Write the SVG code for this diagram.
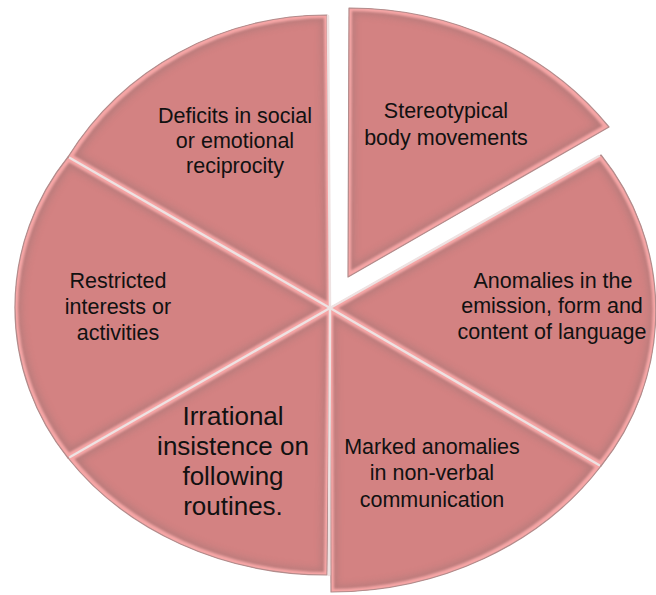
<svg xmlns="http://www.w3.org/2000/svg" width="656" height="595" viewBox="0 0 656 595">
<style>
.slice{fill:#d38282;filter:url(#bevel)}
.edge{fill:none;stroke:#b38c8c;stroke-width:1.2;stroke-linejoin:round}
.sep{stroke:#eee2e2;stroke-width:2.5;stroke-linecap:round}
.lbl{font-family:"Liberation Sans",Arial,sans-serif;font-size:21.5px;fill:#111;text-anchor:middle}
.big{font-size:26px}
</style>
<defs>
<filter id="bevel" x="-5%" y="-5%" width="110%" height="110%" color-interpolation-filters="sRGB">
<feMorphology in="SourceAlpha" operator="erode" radius="3" result="er"/>
<feGaussianBlur in="er" stdDeviation="1.2" result="bl"/>
<feComposite in="SourceAlpha" in2="bl" operator="out" result="rim"/>
<feFlood flood-color="#f6a6a6" result="fl"/>
<feComposite in="fl" in2="rim" operator="in" result="rimc"/>
<feMorphology in="SourceAlpha" operator="erode" radius="6" result="er2"/>
<feGaussianBlur in="er2" stdDeviation="3.5" result="bl2"/>
<feComposite in="SourceAlpha" in2="bl2" operator="out" result="rim2"/>
<feFlood flood-color="#9a7474" flood-opacity="0.45" result="fl2"/>
<feComposite in="fl2" in2="rim2" operator="in" result="shade"/>
<feMerge><feMergeNode in="SourceGraphic"/><feMergeNode in="shade"/><feMergeNode in="rimc"/></feMerge>
</filter>
</defs>

<g id="deficits">
<path class="slice" d="M330 308 L327 15 A302 293 0 0 0 68 157 Z"/>
<path class="edge" d="M330 308 L327 15 A302 293 0 0 0 68 157 Z"/>
<text class="lbl" x="235" y="123">Deficits in social</text>
<text class="lbl" x="235" y="148">or emotional</text>
<text class="lbl" x="235" y="173">reciprocity</text>
</g>

<g id="restricted">
<path class="slice" d="M330 308 L68 157 A240 240 0 0 0 68 458 Z"/>
<path class="edge" d="M330 308 L68 157 A240 240 0 0 0 68 458 Z"/>
<text class="lbl" x="118" y="288">Restricted</text>
<text class="lbl" x="118" y="314">interests or</text>
<text class="lbl" x="118" y="340">activities</text>
</g>

<g id="irrational">
<path class="slice" d="M330 308 L68 458 A313 267 0 0 0 327 575 Z"/>
<path class="edge" d="M330 308 L68 458 A313 267 0 0 0 327 575 Z"/>
<text class="lbl big" x="233" y="425">Irrational</text>
<text class="lbl big" x="233" y="455">insistence on</text>
<text class="lbl big" x="233" y="485">following</text>
<text class="lbl big" x="233" y="515">routines.</text>
</g>

<g id="marked">
<path class="slice" d="M330 308 L331 592 A325 284 0 0 0 601 466 Z"/>
<path class="edge" d="M330 308 L331 592 A325 284 0 0 0 601 466 Z"/>
<text class="lbl" x="432" y="454">Marked anomalies</text>
<text class="lbl" x="432" y="480">in non-verbal</text>
<text class="lbl" x="432" y="507">communication</text>
</g>

<g id="anomalies">
<path class="slice" d="M330 308 L601 466 A248 248 0 0 0 601 155 Z"/>
<path class="edge" d="M330 308 L601 466 A248 248 0 0 0 601 155 Z"/>
<text class="lbl" x="553" y="288">Anomalies in the</text>
<text class="lbl" x="552" y="313">emission, form and</text>
<text class="lbl" x="552" y="339">content of language</text>
</g>

<g id="stereotypical">
<path class="slice" d="M348 277 L349 8 A322 290 0 0 1 609 127 Z"/>
<path class="edge" d="M348 277 L349 8 A322 290 0 0 1 609 127 Z"/>
<text class="lbl" x="446" y="118">Stereotypical</text>
<text class="lbl" x="446" y="145">body movements</text>
</g>

<g id="separators">
<line class="sep" x1="330" y1="308" x2="70" y2="158"/>
<line class="sep" x1="330" y1="308" x2="70" y2="457"/>
<line class="sep" x1="330" y1="308" x2="599" y2="465"/>
<line class="sep" x1="330" y1="308" x2="329" y2="575"/>
<line class="sep" x1="330" y1="308" x2="328" y2="16"/>
<line class="sep" x1="330" y1="308" x2="599" y2="156"/>
</g>
</svg>
